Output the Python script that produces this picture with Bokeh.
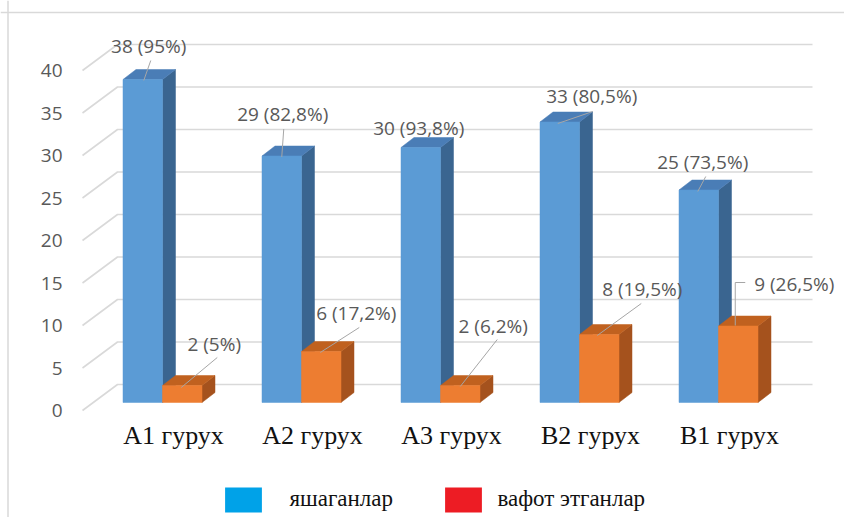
from bokeh.plotting import figure
from bokeh.models import Range1d, Span, Legend, LegendItem, ColumnDataSource
from bokeh.core.properties import value
from bokeh.embed import file_html
from bokeh.resources import INLINE

# ---------------- data ----------------
categories = ["A1 гурух", "A2 гурух", "A3 гурух", "B2 гурух", "B1 гурух"]
alive = [38, 29, 30, 33, 25]
died = [2, 6, 2, 8, 9]
alive_labels = ["38 (95%)", "29 (82,8%)", "30 (93,8%)", "33 (80,5%)", "25 (73,5%)"]
died_labels = ["2 (5%)", "6 (17,2%)", "2 (6,2%)", "8 (19,5%)", "9 (26,5%)"]
y_ticks = [0, 5, 10, 15, 20, 25, 30, 35, 40]
series_names = ["яшаганлар", "вафот этганлар"]

# ---------------- layout / style ----------------
W, H = 844, 517
PXX = 139.0   # pixels per category
PXY = 8.5     # pixels per value unit
X0 = 162.0    # pixel of first group centre from figure left
Y0 = 402.0    # pixel of value 0 from figure top


def px(d):
    return d / PXX


def py(d):
    return d / PXY


BW = px(39.5)
DX, DY = px(13), py(10)
BACK_DY = py(18)
LABEL_DY = py(-8)
WALL_X0, WALL_X1 = px(117 - 162), px(812 - 162)
DIAG_X0 = px(82 - 162)
TICK_X = px(62 - 162)

blue = dict(front="#5B9BD5", top="#4A7DB6", side="#3A6590")
orange = dict(front="#ED7D31", top="#C0611F", side="#A5521D")
grid_color = "#D9D9D9"
text_gray = "#595959"

# label offsets (screen px) relative to bar top-front centre
alive_off = [(6, -34), (1, -42), (-2, -20), (32, -26), (4, -28)]
died_off = [(32, -42), (35, -39), (33, -60), (43, -46), (56, -42)]
alive_lead = [[(8, -19), (1, 1)], [(2, -27), (0, 1)], None,
              [(-2, 1.5), (33, -10.5)], [(7, -13.5), (-1, 1.5)]]
died_lead = [[(35, -28), (-1, 2)], [(38, -24), (-1, 1)], [(37, -46), (0, 1)],
             [(42, -31), (-2, 1)], [(7, -43.5), (-3, -43.5), (-3, -0.5)]]

p = figure(width=W, height=H, output_backend="svg", toolbar_location=None,
           x_axis_location=None, y_axis_location=None,
           x_range=Range1d(-X0 / PXX, (W - X0) / PXX),
           y_range=Range1d((Y0 - H) / PXY, Y0 / PXY),
           min_border=0, background_fill_color="white",
           border_fill_color="white")
p.outline_line_color = None
p.xgrid.visible = False
p.ygrid.visible = False

# chart area border (top and left)
p.add_layout(Span(location=(Y0 - 12) / PXY, dimension="width", line_color=grid_color, line_width=1.5))
p.add_layout(Span(location=-X0 / PXX + px(7.5), dimension="height", line_color=grid_color, line_width=1.5))

# back wall gridlines + floor/side diagonals
gx, gy = [], []
for t in y_ticks:
    gx.append([DIAG_X0, WALL_X0, WALL_X1])
    gy.append([t + LABEL_DY, t + BACK_DY, t + BACK_DY])
p.multi_line(xs=gx, ys=gy, line_color=grid_color, line_width=1.6)

# y tick labels
p.text(x=[TICK_X] * len(y_ticks), y=[t + LABEL_DY for t in y_ticks], text=[str(t) for t in y_ticks],
       text_font=value("Open Sans"), text_font_size="19px", text_color=text_gray,
       text_align="right", text_baseline="middle")


def draw_bars(vals, lefts, col):
    fl, fr, ft = [], [], []
    tx, ty, sx, sy = [], [], [], []
    for l, v in zip(lefts, vals):
        r = l + BW
        fl.append(l); fr.append(r); ft.append(v)
        tx.append([l, r, r + DX, l + DX]); ty.append([v, v, v + DY, v + DY])
        sx.append([r, r + DX, r + DX, r]); sy.append([0, DY, v + DY, v])
    p.patches(sx, sy, fill_color=col["side"], line_color=col["side"], line_width=0.5)
    p.patches(tx, ty, fill_color=col["top"], line_color=col["top"], line_width=0.5)
    p.quad(left=fl, right=fr, bottom=[0] * len(vals), top=ft,
           fill_color=col["front"], line_color=col["front"], line_width=0.5)


idx = list(range(len(categories)))
draw_bars(alive, [i - BW for i in idx], blue)
draw_bars(died, [i for i in idx], orange)

# leader lines
lx, ly = [], []
for anchors_x, vals, leads in ((([i - BW / 2 for i in idx]), alive, alive_lead),
                               (([i + BW / 2 for i in idx]), died, died_lead)):
    for ax, v, lead in zip(anchors_x, vals, leads):
        if lead is None:
            continue
        lx.append([ax + px(d[0]) for d in lead])
        ly.append([v - py(d[1]) for d in lead])
p.multi_line(xs=lx, ys=ly, line_color="#A6A6A6", line_width=1)

# data labels
lab_src = ColumnDataSource(dict(
    x=[i - BW / 2 for i in idx] + [i + BW / 2 for i in idx],
    y=alive + died,
    text=alive_labels + died_labels,
    xo=[o[0] for o in alive_off] + [o[0] for o in died_off],
    yo=[o[1] for o in alive_off] + [o[1] for o in died_off],
))
p.text(x="x", y="y", text="text", x_offset="xo", y_offset="yo", source=lab_src,
       text_font=value("Open Sans"), text_font_size="19px", text_color=text_gray,
       text_align="center", text_baseline="middle")

# category labels
p.text(x=[i + px(11) for i in idx], y=[py(-33)] * len(idx), text=categories,
       text_font=value("Liberation Serif"), text_font_size="26px", text_color="#111111",
       text_align="center", text_baseline="middle")

# legend (two separate single-item legends); swatch renderers hold no drawable point
nan = float("nan")
r_blue = p.quad(left=[nan], right=[nan], top=[nan], bottom=[nan], fill_color="#00A2E8", line_color=None)
r_red = p.quad(left=[nan], right=[nan], top=[nan], bottom=[nan], fill_color="#ED1C24", line_color=None)
for r, name, loc, standoff in ((r_blue, series_names[0], (220.4, 2.5), 23),
                               (r_red, series_names[1], (440.4, 2.5), 11)):
    lg = Legend(items=[LegendItem(label=name, renderers=[r])], location=loc,
                orientation="horizontal", glyph_width=46, glyph_height=31,
                label_standoff=standoff, padding=0, margin=0, spacing=0,
                border_line_color=None, background_fill_alpha=0,
                label_text_font="Liberation Serif", label_text_font_size="23px",
                label_text_color="#111111")
    p.add_layout(lg)

open("out.html", "w").write(file_html(p, INLINE))
